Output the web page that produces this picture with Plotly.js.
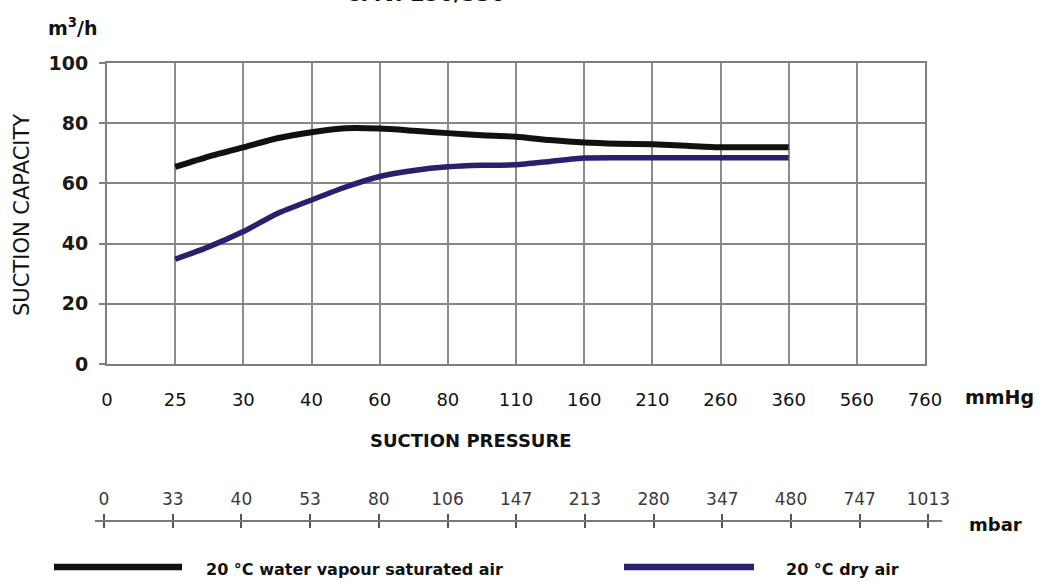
<!DOCTYPE html>
<html>
<head>
<meta charset="utf-8">
<script src="https://cdn.plot.ly/plotly-3.0.1.min.js"></script>
<style>html,body{margin:0;padding:0;background:#fff;}#chart{width:1040px;height:581px;}</style>
</head>
<body>
<div id="chart"></div>
<script>
// ---- data ----
const mmHgLabels = ['0','25','30','40','60','80','110','160','210','260','360','560','760'];
const mbarLabels = ['0','33','40','53','80','106','147','213','280','347','480','747','1013'];
// curve positions along the (equally spaced) pressure scale, in tick-index units
const pressurePos = [1, 1.5, 2, 2.5, 3, 3.5, 4, 4.5, 5, 5.5, 6, 6.5, 7, 7.5, 8, 8.5, 9, 9.5, 10];
const saturatedAir = [65.5, 69, 72, 75, 77, 78.3, 78.2, 77.5, 76.7, 76, 75.5, 74.4, 73.6, 73.2, 73, 72.5, 72, 72, 72];
const dryAir = [34.8, 39, 44, 50, 54.5, 58.8, 62.3, 64.3, 65.5, 66, 66.2, 67.3, 68.4, 68.5, 68.5, 68.5, 68.5, 68.5, 68.5];
const seriesNames = ['20 °C water vapour saturated air', '20 °C dry air'];
const seriesColors = ['#111111', '#2b1f6e'];

// ---- layout helpers (pixel -> paper) ----
const W = 1040, H = 581;
const px = v => v / W;
const py = v => 1 - v / H;
const FONT = 'DejaVu Sans, Liberation Sans, Arial, sans-serif';
const idx = mmHgLabels.map((_, i) => i);
const mbarStep = 68.7, mbarZero = 104;
const mbarRange = [(95 - mbarZero) / mbarStep, (942 - mbarZero) / mbarStep];

const traces = [
  {x: pressurePos, y: saturatedAir, name: seriesNames[0], type: 'scatter', mode: 'lines',
   line: {color: seriesColors[0], width: 6, shape: 'spline', smoothing: 0.6}, hoverinfo: 'x+y'},
  {x: pressurePos, y: dryAir, name: seriesNames[1], type: 'scatter', mode: 'lines',
   line: {color: seriesColors[1], width: 5.5, shape: 'spline', smoothing: 0.6}, hoverinfo: 'x+y'},
  {x: [0], y: [0.5], xaxis: 'x2', yaxis: 'y2', mode: 'markers', marker: {opacity: 0}, hoverinfo: 'skip', showlegend: false},
  {x: [0], y: [0.5], xaxis: 'x3', yaxis: 'y2', mode: 'markers', marker: {opacity: 0}, hoverinfo: 'skip', showlegend: false}
];

const layout = {
  width: W, height: H,
  margin: {l: 0, r: 0, t: 0, b: 0},
  paper_bgcolor: '#ffffff', plot_bgcolor: '#ffffff',
  showlegend: false,
  font: {family: FONT, color: '#111'},
  xaxis: {
    domain: [px(107), px(925)], range: [0, 12],
    tickmode: 'array', tickvals: idx, ticktext: mmHgLabels,
    showgrid: true, gridcolor: '#8c8c8c', gridwidth: 2,
    showline: true, linecolor: '#7e7e7e', linewidth: 2, mirror: true,
    zeroline: false, ticks: '', ticklabelstandoff: 18,
    tickfont: {family: FONT, size: 18, color: '#111'}
  },
  yaxis: {
    domain: [py(364), py(63)], range: [0, 100],
    tickmode: 'linear', tick0: 0, dtick: 20,
    showgrid: true, gridcolor: '#858585', gridwidth: 1.5,
    showline: true, linecolor: '#7e7e7e', linewidth: 2, mirror: true,
    zeroline: false, ticks: 'outside', ticklen: 6, tickcolor: '#7e7e7e', tickwidth: 1.5,
    ticklabelstandoff: 7,
    tickfont: {family: FONT, size: 19, color: '#1a1a1a', weight: 'bold'}
  },
  xaxis2: {
    domain: [px(95), px(942)], range: mbarRange,
    anchor: 'y2', side: 'top',
    tickmode: 'array', tickvals: idx, ticktext: mbarLabels,
    showgrid: false, zeroline: false,
    showline: true, linecolor: '#7a7a7a', linewidth: 2,
    ticks: 'outside', ticklen: 6, tickwidth: 1.5, tickcolor: '#555',
    ticklabelstandoff: 2,
    tickfont: {family: FONT, size: 17, color: '#3a3a3a'}
  },
  xaxis3: {
    overlaying: 'x2', anchor: 'y2', side: 'top',
    range: mbarRange,
    tickmode: 'array', tickvals: idx, showticklabels: false,
    showgrid: false, zeroline: false, showline: false,
    ticks: 'inside', ticklen: 6, tickwidth: 1.5, tickcolor: '#555'
  },
  yaxis2: {domain: [0, py(522)], range: [0, 1], visible: false, showgrid: false, zeroline: false},
  shapes: [
    {type: 'line', xref: 'paper', yref: 'paper', x0: px(54), x1: px(182), y0: py(567), y1: py(567),
     line: {color: seriesColors[0], width: 6.5}},
    {type: 'line', xref: 'paper', yref: 'paper', x0: px(624), x1: px(754), y0: py(567), y1: py(567),
     line: {color: seriesColors[1], width: 6.5}}
  ],
  annotations: [
    {text: '<b>CMV. 250/330</b>', xref: 'paper', yref: 'paper', x: px(425), y: py(8),
     xanchor: 'center', yanchor: 'bottom', showarrow: false, font: {family: FONT, size: 21, color: '#111'}},
    {text: '<b>m<sup>3</sup>/h</b>', xref: 'paper', yref: 'paper', x: px(46), y: py(27),
     xanchor: 'left', yanchor: 'middle', showarrow: false, font: {family: FONT, size: 19, color: '#111'}},
    {text: 'SUCTION CAPACITY', xref: 'paper', yref: 'paper', x: px(22), y: py(215), textangle: -90,
     xanchor: 'center', yanchor: 'middle', showarrow: false, font: {family: FONT, size: 21, color: '#111'}},
    {text: '<b>mmHg</b>', xref: 'paper', yref: 'paper', x: px(963), y: py(397),
     xanchor: 'left', yanchor: 'middle', showarrow: false, font: {family: FONT, size: 19, color: '#111'}},
    {text: '<b>SUCTION PRESSURE</b>', xref: 'paper', yref: 'paper', x: px(471), y: py(440),
     xanchor: 'center', yanchor: 'middle', showarrow: false, font: {family: FONT, size: 18, color: '#111'}},
    {text: '<b>mbar</b>', xref: 'paper', yref: 'paper', x: px(967), y: py(524),
     xanchor: 'left', yanchor: 'middle', showarrow: false, font: {family: FONT, size: 18, color: '#111'}},
    {text: '<b>' + seriesNames[0] + '</b>', xref: 'paper', yref: 'paper', x: px(204), y: py(569),
     xanchor: 'left', yanchor: 'middle', showarrow: false, font: {family: FONT, size: 16, color: '#111'}},
    {text: '<b>' + seriesNames[1] + '</b>', xref: 'paper', yref: 'paper', x: px(784), y: py(569),
     xanchor: 'left', yanchor: 'middle', showarrow: false, font: {family: FONT, size: 16, color: '#111'}}
  ]
};

Plotly.newPlot('chart', traces, layout, {displayModeBar: false, responsive: false});
</script>
</body>
</html>
